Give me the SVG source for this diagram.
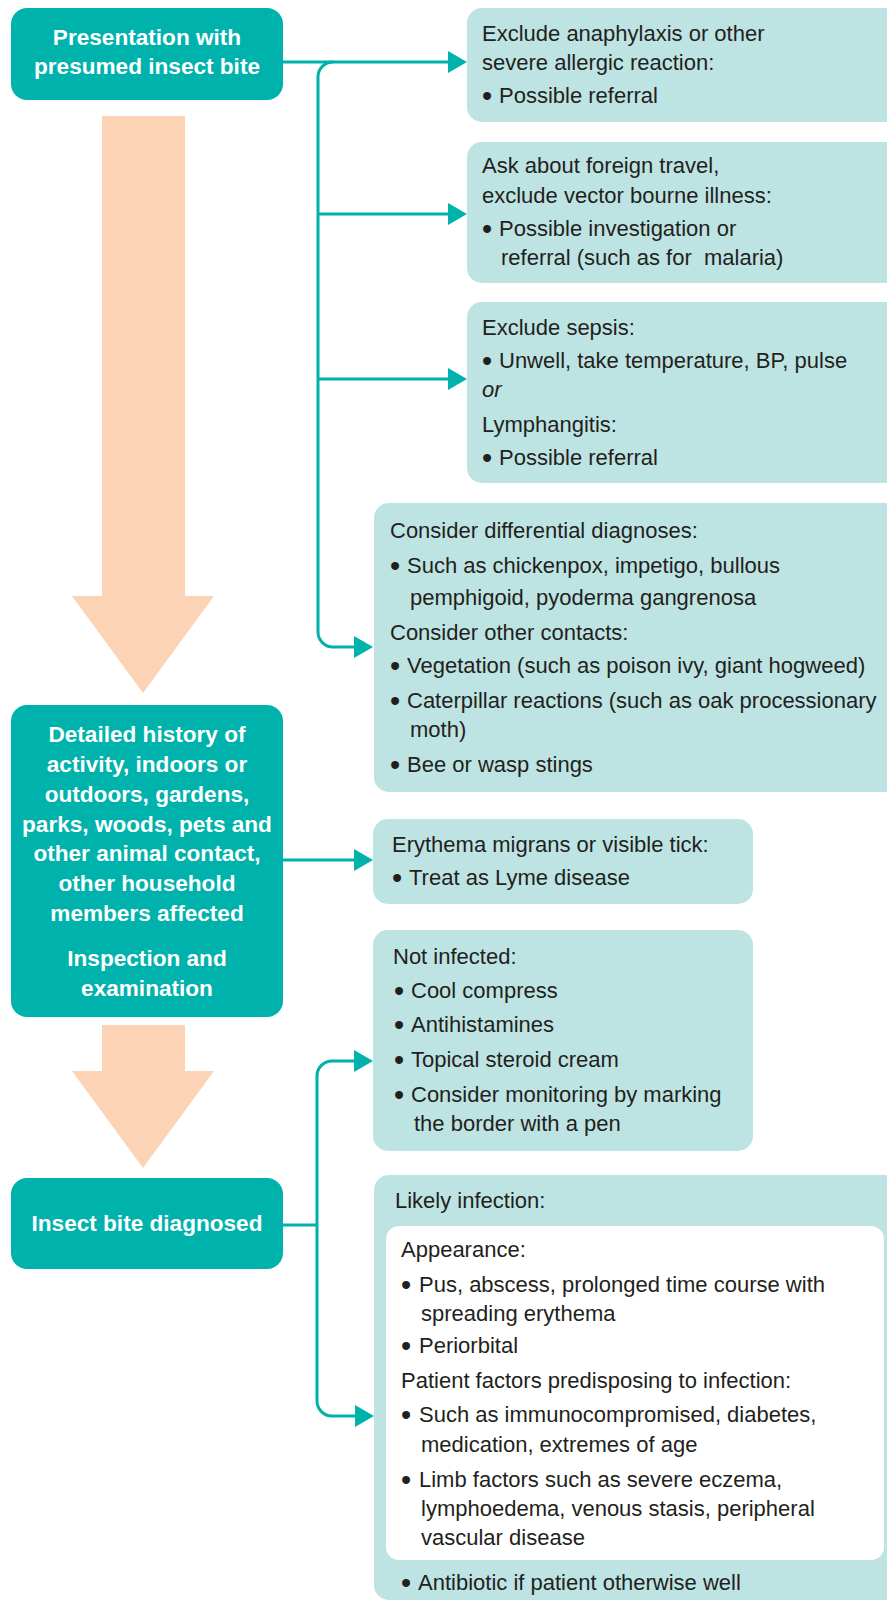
<svg xmlns="http://www.w3.org/2000/svg" width="887" height="1601" viewBox="0 0 887 1601">
<defs>
<style>
.dk{fill:#00B2AC}
.lt{fill:#BDE4E2}
.wh{fill:#FFFFFF}
.or{fill:#FDD3B5}
.t{font-family:"Liberation Sans",Arial,sans-serif;font-size:22px;fill:#231F20}
.it{font-style:italic}
.bu{font-size:29px}
.b{font-family:"Liberation Sans",Arial,sans-serif;font-size:22.6px;font-weight:bold;fill:#FFFFFF;text-anchor:middle}
.c{fill:none;stroke:#00B2AC;stroke-width:3}
</style>
<marker id="ah" markerUnits="userSpaceOnUse" markerWidth="20" markerHeight="22" refX="0" refY="11" orient="auto">
<path d="M0,0 L19,11 L0,22 z" fill="#00B2AC"/>
</marker>
</defs>
<rect width="887" height="1601" fill="#FFFFFF"/>

<g id="flow-arrows">
<polygon class="or" points="102,116 185,116 185,596 214,596 143,693 72,596 102,596"/>
<polygon class="or" points="102,1025 185,1025 185,1071 214,1071 143,1168 72,1071 102,1071"/>
</g>

<g id="connectors">
<path class="c" d="M283,62 H448" marker-end="url(#ah)"/>
<path class="c" d="M333,62 A15,15 0 0 0 318,77 V632 A15,15 0 0 0 333,647 H354" marker-end="url(#ah)"/>
<path class="c" d="M318,214 H448" marker-end="url(#ah)"/>
<path class="c" d="M318,379 H448" marker-end="url(#ah)"/>
<path class="c" d="M283,860 H354" marker-end="url(#ah)"/>
<path class="c" d="M283,1225 H317"/>
<path class="c" d="M317,1225 V1076 A15,15 0 0 1 332,1061 H354" marker-end="url(#ah)"/>
<path class="c" d="M317,1225 V1401 A15,15 0 0 0 332,1416 H355" marker-end="url(#ah)"/>
</g>

<g id="presentation">
<rect class="dk" x="11" y="8" width="272" height="92" rx="16"/>
<text class="b" x="147" y="45">Presentation with</text>
<text class="b" x="147" y="74">presumed insect bite</text>
</g>

<g id="history">
<rect class="dk" x="11" y="705" width="272" height="312" rx="16"/>
<text class="b" x="147" y="742">Detailed history of</text>
<text class="b" x="147" y="772">activity, indoors or</text>
<text class="b" x="147" y="802">outdoors, gardens,</text>
<text class="b" x="147" y="832">parks, woods, pets and</text>
<text class="b" x="147" y="861">other animal contact,</text>
<text class="b" x="147" y="891">other household</text>
<text class="b" x="147" y="921">members affected</text>
<text class="b" x="147" y="966">Inspection and</text>
<text class="b" x="147" y="996">examination</text>
</g>

<g id="diagnosed">
<rect class="dk" x="11" y="1178" width="272" height="91" rx="16"/>
<text class="b" x="147" y="1231">Insect bite diagnosed</text>
</g>

<g id="anaphylaxis">
<rect class="lt" x="467" y="8" width="440" height="114" rx="15"/>
<text class="t" x="482" y="41">Exclude anaphylaxis or other</text>
<text class="t" x="482" y="70">severe allergic reaction:</text>
<text class="t" y="103"><tspan class="bu" x="482" dy="2.5">•</tspan><tspan x="499" dy="-2.5">Possible referral</tspan></text>
</g>

<g id="travel">
<rect class="lt" x="467" y="142" width="440" height="141" rx="15"/>
<text class="t" x="482" y="173">Ask about foreign travel,</text>
<text class="t" x="482" y="203">exclude vector bourne illness:</text>
<text class="t" y="236"><tspan class="bu" x="482" dy="2.5">•</tspan><tspan x="499" dy="-2.5">Possible investigation or</tspan></text>
<text class="t" x="501" y="265" xml:space="preserve">referral (such as for  malaria)</text>
</g>

<g id="sepsis">
<rect class="lt" x="467" y="302" width="440" height="181" rx="15"/>
<text class="t" x="482" y="335">Exclude sepsis:</text>
<text class="t" y="368"><tspan class="bu" x="482" dy="2.5">•</tspan><tspan x="499" dy="-2.5">Unwell, take temperature, BP, pulse</tspan></text>
<text class="t it" x="482" y="397">or</text>
<text class="t" x="482" y="432">Lymphangitis:</text>
<text class="t" y="465"><tspan class="bu" x="482" dy="2.5">•</tspan><tspan x="499" dy="-2.5">Possible referral</tspan></text>
</g>

<g id="differential">
<rect class="lt" x="374" y="503" width="540" height="289" rx="15"/>
<text class="t" x="390" y="538">Consider differential diagnoses:</text>
<text class="t" y="573"><tspan class="bu" x="390" dy="2.5">•</tspan><tspan x="407" dy="-2.5">Such as chickenpox, impetigo, bullous</tspan></text>
<text class="t" x="410" y="605">pemphigoid, pyoderma gangrenosa</text>
<text class="t" x="390" y="640">Consider other contacts:</text>
<text class="t" y="673"><tspan class="bu" x="390" dy="2.5">•</tspan><tspan x="407" dy="-2.5">Vegetation (such as poison ivy, giant hogweed)</tspan></text>
<text class="t" y="708"><tspan class="bu" x="390" dy="2.5">•</tspan><tspan x="407" dy="-2.5">Caterpillar reactions (such as oak processionary</tspan></text>
<text class="t" x="410" y="737">moth)</text>
<text class="t" y="772"><tspan class="bu" x="390" dy="2.5">•</tspan><tspan x="407" dy="-2.5">Bee or wasp stings</tspan></text>
</g>

<g id="lyme">
<rect class="lt" x="373" y="819" width="380" height="85" rx="15"/>
<text class="t" x="392" y="852">Erythema migrans or visible tick:</text>
<text class="t" y="885"><tspan class="bu" x="392" dy="2.5">•</tspan><tspan x="409" dy="-2.5">Treat as Lyme disease</tspan></text>
</g>

<g id="not-infected">
<rect class="lt" x="373" y="930" width="380" height="221" rx="15"/>
<text class="t" x="393" y="964">Not infected:</text>
<text class="t" y="998"><tspan class="bu" x="394" dy="2.5">•</tspan><tspan x="411" dy="-2.5">Cool compress</tspan></text>
<text class="t" y="1032"><tspan class="bu" x="394" dy="2.5">•</tspan><tspan x="411" dy="-2.5">Antihistamines</tspan></text>
<text class="t" y="1067"><tspan class="bu" x="394" dy="2.5">•</tspan><tspan x="411" dy="-2.5">Topical steroid cream</tspan></text>
<text class="t" y="1102"><tspan class="bu" x="394" dy="2.5">•</tspan><tspan x="411" dy="-2.5">Consider monitoring by marking</tspan></text>
<text class="t" x="414" y="1131">the border with a pen</text>
</g>

<g id="likely-infection">
<rect class="lt" x="374" y="1175" width="540" height="425" rx="15"/>
<rect class="wh" x="386" y="1226" width="498" height="334" rx="13"/>
<text class="t" x="395" y="1208">Likely infection:</text>
<text class="t" x="401" y="1257">Appearance:</text>
<text class="t" y="1292"><tspan class="bu" x="401" dy="2.5">•</tspan><tspan x="419" dy="-2.5">Pus, abscess, prolonged time course with</tspan></text>
<text class="t" x="421" y="1321">spreading erythema</text>
<text class="t" y="1353"><tspan class="bu" x="401" dy="2.5">•</tspan><tspan x="419" dy="-2.5">Periorbital</tspan></text>
<text class="t" x="401" y="1388">Patient factors predisposing to infection:</text>
<text class="t" y="1422"><tspan class="bu" x="401" dy="2.5">•</tspan><tspan x="419" dy="-2.5">Such as immunocompromised, diabetes,</tspan></text>
<text class="t" x="421" y="1452">medication, extremes of age</text>
<text class="t" y="1487"><tspan class="bu" x="401" dy="2.5">•</tspan><tspan x="419" dy="-2.5">Limb factors such as severe eczema,</tspan></text>
<text class="t" x="421" y="1516">lymphoedema, venous stasis, peripheral</text>
<text class="t" x="421" y="1545">vascular disease</text>
<text class="t" y="1590"><tspan class="bu" x="401" dy="2.5">•</tspan><tspan x="418" dy="-2.5">Antibiotic if patient otherwise well</tspan></text>
</g>
</svg>
